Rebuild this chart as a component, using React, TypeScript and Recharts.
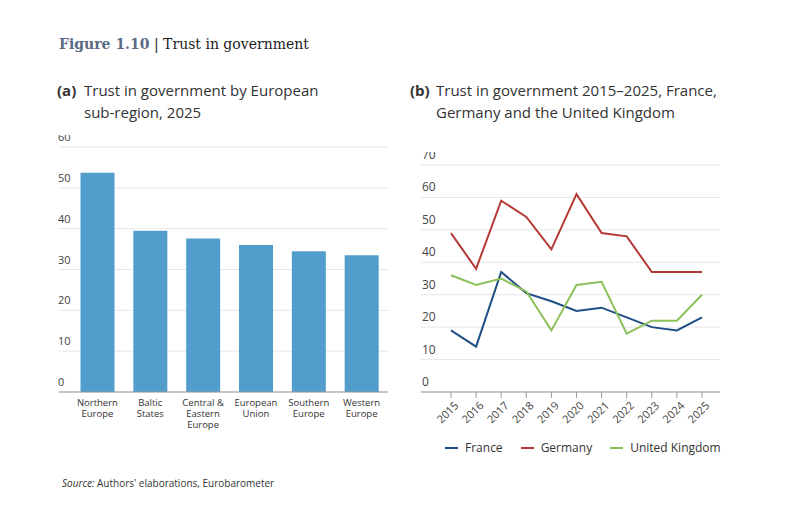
import React from 'react'
import { BarChart, Bar, LineChart, Line, XAxis, YAxis, CartesianGrid } from 'recharts'

const regions = ['Northern\nEurope', 'Baltic\nStates', 'Central &\nEastern\nEurope', 'European\nUnion', 'Southern\nEurope', 'Western\nEurope']
const regionTrust = [53.7, 39.5, 37.6, 36, 34.5, 33.5]
const years = ['2015', '2016', '2017', '2018', '2019', '2020', '2021', '2022', '2023', '2024', '2025']
const france = [19, 14, 37, 30.5, 28, 25, 26, 23, 20, 19, 23]
const germany = [49, 38, 59, 54, 44, 61, 49, 48, 37, 37, 37]
const uk = [36, 33, 35, 31, 19, 33, 34, 18, 22, 22, 30]
const leftTicks = [0, 10, 20, 30, 40, 50, 60]
const rightTicks = [0, 10, 20, 30, 40, 50, 60, 70]

const barData = regions.map((r, i) => ({ name: r, v: regionTrust[i] }))
const lineData = years.map((y, i) => ({ year: y, France: france[i], Germany: germany[i], UK: uk[i] }))

const font = '"Open Sans", sans-serif'

const YTick = ({ y, payload, size, left }: any) => (
  <text x={left} y={y - 6} fill="#444" fontSize={size} fontFamily={font}>{payload.value}</text>
)

const CatTick = ({ x, y, payload }: any) => (
  <text x={x} y={y + 6} fill="#333" fontSize={9.5} fontFamily={font} textAnchor="middle">
    {String(payload.value).split('\n').map((l, i) => <tspan key={i} x={x} dy={i === 0 ? 0 : 11}>{l}</tspan>)}
  </text>
)

const YearTick = ({ x, y, payload }: any) => (
  <text x={x + 4} y={y + 2} fill="#444" fontSize={11} fontFamily={font} textAnchor="end" transform={`rotate(-45 ${x + 4} ${y + 2})`} dy={6}>{payload.value}</text>
)

export default function App() {
  return (
    <div style={{ position: 'relative', width: 793, height: 526, background: '#fff', fontFamily: font, margin: -8 }}>
      <div style={{ position: 'absolute', left: 59, top: 36, fontFamily: '"DejaVu Serif", serif', fontSize: 14, color: '#222' }}>
        <span style={{ color: '#5a6a85', fontWeight: 'bold' }}>Figure 1.10</span> | Trust in government
      </div>
      <div style={{ position: 'absolute', left: 57, top: 79, fontSize: 15, color: '#333', lineHeight: '22px', display: 'flex' }}>
        <span style={{ fontWeight: 'bold', width: 27 }}>(a)</span><span>Trust in government by European<br />sub-region, 2025</span>
      </div>
      <div style={{ position: 'absolute', left: 410, top: 79, fontSize: 15, color: '#333', lineHeight: '22px', display: 'flex' }}>
        <span style={{ fontWeight: 'bold', width: 26 }}>(b)</span><span>Trust in government 2015–2025, France,<br />Germany and the United Kingdom</span>
      </div>
      <div style={{ position: 'absolute', left: 48, top: 135 }}>
        <BarChart width={350} height={320} data={barData} margin={{ top: 12, right: 10, left: 10, bottom: 5 }} barCategoryGap="18%">
          <CartesianGrid vertical={false} stroke="#e6e6e6" />
          <XAxis dataKey="name" tick={<CatTick />} interval={0} tickLine={false} axisLine={{ stroke: '#999' }} height={58} padding={{ left: 12, right: 0 }} />
          <YAxis domain={[0, 60]} ticks={leftTicks} tick={<YTick size={11} left={10} />} axisLine={false} tickLine={false} width={1} />
          <Bar dataKey="v" fill="#519ecc" isAnimationActive={false} />
        </BarChart>
      </div>
      <div style={{ position: 'absolute', left: 408, top: 152 }}>
        <LineChart width={320} height={300} data={lineData} margin={{ top: 13, right: 8, left: 12, bottom: 0 }}>
          <CartesianGrid vertical={false} stroke="#e6e6e6" />
          <XAxis dataKey="year" tick={<YearTick />} interval={0} tickLine={{ stroke: '#999' }} axisLine={{ stroke: '#999' }} height={60} padding={{ left: 30, right: 18 }} />
          <YAxis domain={[0, 70]} ticks={rightTicks} tick={<YTick size={12} left={14} />} axisLine={false} tickLine={false} width={1} />
          <Line dataKey="France" stroke="#1f4e85" strokeWidth={2} dot={false} isAnimationActive={false} />
          <Line dataKey="Germany" stroke="#b53a35" strokeWidth={2} dot={false} isAnimationActive={false} />
          <Line dataKey="UK" stroke="#8cc15a" strokeWidth={2} dot={false} isAnimationActive={false} />
        </LineChart>
      </div>
      <div style={{ position: 'absolute', left: 445, top: 439, fontSize: 12, color: '#333', display: 'flex', gap: 18, alignItems: 'center' }}>
        {[['France', '#1f4e85'], ['Germany', '#b53a35'], ['United Kingdom', '#8cc15a']].map(([n, c]) => (
          <span key={n} style={{ display: 'flex', alignItems: 'center', gap: 7 }}>
            <span style={{ width: 13, height: 2, background: c, display: 'inline-block' }} />{n}
          </span>
        ))}
      </div>
      <div style={{ position: 'absolute', left: 62, top: 476, fontSize: 10, color: '#333' }}>
        <i>Source:</i> Authors' elaborations, Eurobarometer
      </div>
    </div>
  )
}
